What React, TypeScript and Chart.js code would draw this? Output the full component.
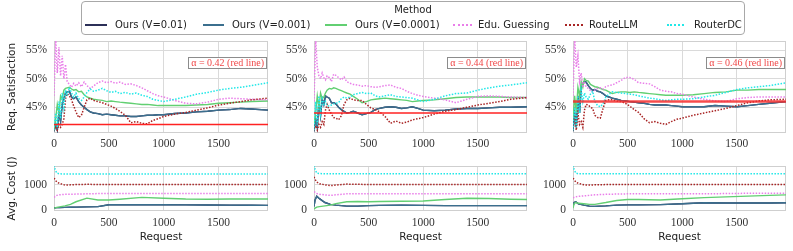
import React, { useEffect, useRef } from "react";
import { Chart, registerables } from "chart.js";

Chart.register(...registerables);

// ---------------- data ----------------
const X_MAX = 1950;
const X_TICKS = [0, 500, 1000, 1500];
const SAT_TICKS = [45, 50, 55];
const COST_TICKS = [0, 1000];
const ALPHAS = [0.42, 0.44, 0.46];

const METHODS = ["Ours (V=0.01)", "Ours (V=0.001)", "Ours (V=0.0001)", "Edu. Guessing", "RouteLLM", "RouterDC"];
const COLORS = ["#2c3058", "#3b6f8e", "#62cf72", "#e97ee9", "#a82424", "#22e8e8"];
const DOTTED = [false, false, false, true, true, true];

// request index at which satisfaction values were read
const REQ_SAT = [0, 15, 30, 45, 60, 75, 90, 105, 120, 140, 160, 180, 200, 225, 250, 275, 300, 330, 360, 400, 440, 480, 520, 560, 600, 650, 700, 750, 800, 850, 900, 950, 1000, 1100, 1200, 1300, 1400, 1500, 1600, 1700, 1800, 1950];

// panel 1 (alpha = 0.42) - Req. Satisfaction (%)
const SAT1_V001 = [40.8, 42, 41, 44, 42.5, 45.5, 46.5, 47.5, 47.7, 47.8, 46.8, 46.5, 46.8, 46.0, 45.4, 45.0, 44.6, 44.2, 44.0, 43.9, 43.7, 43.8, 43.7, 43.6, 43.5, 43.5, 43.4, 43.4, 43.5, 43.6, 43.6, 43.7, 43.7, 43.9, 44.0, 44.2, 44.3, 44.5, 44.6, 44.8, 44.7, 44.5];
const SAT1_V01 = [40.8, 42, 41, 44, 42.5, 45.5, 46.5, 47.5, 47.7, 47.8, 46.8, 46.5, 46.8, 46.0, 45.4, 45.0, 44.6, 44.2, 44.0, 43.9, 43.7, 43.8, 43.7, 43.6, 43.5, 43.5, 43.4, 43.4, 43.5, 43.6, 43.6, 43.7, 43.7, 43.9, 44.0, 44.2, 44.3, 44.5, 44.6, 44.8, 44.7, 44.5];
const SAT1_V0001 = [41, 43, 45.5, 44, 47, 46.5, 48, 48.3, 48.4, 48.5, 48.2, 48.0, 48.1, 47.7, 47.8, 47.2, 46.8, 46.6, 46.4, 46.3, 46.2, 46.0, 46.1, 46.0, 45.9, 45.8, 45.7, 45.6, 45.5, 45.5, 45.4, 45.3, 45.3, 45.3, 45.3, 45.4, 45.5, 45.7, 45.8, 45.9, 46.0, 46.1];
const SAT1_EDU = [47, 57, 51, 55.5, 50.5, 54, 50, 52.5, 49.5, 49, 48.5, 49.2, 48.7, 49.3, 48.6, 49.4, 48.8, 48.3, 48.7, 49.3, 49.6, 49.3, 49.5, 49.2, 49.4, 49.0, 49.1, 48.8, 48.4, 47.9, 47.4, 47.0, 46.8, 46.2, 45.7, 45.6, 45.9, 46.4, 46.6, 46.5, 46.4, 46.3];
const SAT1_RLLM = [41, 41.5, 41, 42, 41.5, 42, 43, 46.5, 47.4, 47, 46.3, 45.2, 44.2, 43.2, 43.6, 45.0, 46.3, 46.6, 46.2, 46.0, 45.8, 45.5, 45.2, 44.8, 44.3, 43.6, 42.3, 42.5, 42.2, 42.1, 42.7, 43.0, 43.4, 43.8, 44.1, 44.5, 44.9, 45.4, 45.7, 46.0, 46.3, 46.6];
const SAT1_RDC = [41, 44, 41.5, 46, 43, 47.5, 45, 48, 47, 48.5, 47.5, 46.8, 47.5, 46.5, 46.2, 46.8, 47.6, 48.2, 47.8, 48.0, 48.3, 47.9, 47.6, 47.8, 47.4, 47.6, 47.3, 47.5, 47.1, 46.9, 46.4, 46.2, 46.0, 46.4, 46.8, 47.3, 47.6, 48.0, 48.3, 48.5, 48.8, 49.3];

// panel 2 (alpha = 0.44)
const SAT2_V001 = [40.8, 43, 41.5, 46, 43.5, 46.5, 45.5, 47.0, 46.8, 46.6, 45.8, 45.8, 45.6, 45.0, 44.6, 44.3, 44.0, 44.1, 44.3, 44.0, 43.7, 43.9, 44.1, 44.6, 44.8, 45.0, 45.1, 45.0, 44.8, 44.9, 45.1, 44.8, 44.5, 44.4, 44.5, 44.7, 44.8, 44.8, 44.9, 45.0, 45.0, 45.1];
const SAT2_V01 = [40.8, 43, 41.5, 46, 43.5, 46.5, 45.5, 47.0, 46.8, 46.6, 45.8, 45.8, 45.6, 45.0, 44.6, 44.3, 44.0, 44.1, 44.3, 44.0, 43.7, 43.9, 44.1, 44.6, 44.8, 45.0, 45.1, 45.0, 44.8, 44.9, 45.1, 44.8, 44.5, 44.4, 44.5, 44.7, 44.8, 44.8, 44.9, 45.0, 45.0, 45.1];
const SAT2_V0001 = [42, 44, 47, 45, 47.5, 46.5, 46.8, 47.5, 48.0, 48.3, 48.2, 48.4, 48.3, 48.1, 47.9, 47.7, 47.5, 47.3, 46.9, 46.4, 45.8, 46.0, 46.3, 46.4, 46.5, 46.6, 46.5, 46.4, 46.3, 46.2, 46.0, 46.1, 46.2, 46.3, 46.5, 46.7, 46.8, 46.8, 46.8, 46.8, 46.7, 46.7];
const SAT2_EDU = [46, 57, 52, 50.5, 50, 51, 50.2, 49.8, 50.5, 50.2, 49.5, 50.8, 50.6, 50.2, 49.8, 50.3, 49.5, 49.2, 49.0, 48.9, 48.7, 48.8, 48.6, 48.5, 48.6, 48.8, 48.9, 48.5, 48.3, 47.8, 47.4, 47.1, 46.9, 46.6, 46.3, 45.8, 46.4, 46.9, 47.0, 46.9, 46.8, 46.7];
const SAT2_RLLM = [41, 41.8, 41, 42, 41.5, 42.5, 42, 44.5, 45.5, 44.5, 43.8, 43.2, 43.1, 42.8, 43.5, 45.5, 46.3, 46.6, 46.3, 46.2, 46.2, 45.5, 44.9, 44.6, 44.2, 43.4, 42.2, 42.6, 42.2, 42.4, 42.8, 43.0, 43.2, 43.8, 44.3, 44.6, 45.0, 45.4, 45.7, 46.0, 46.4, 46.7];
const SAT2_RDC = [41, 46, 42, 47, 44, 46.5, 45.5, 46, 45.3, 45.2, 45.4, 45.6, 45.7, 45.8, 46.5, 46.8, 46.6, 46.8, 47.2, 47.4, 47.6, 47.4, 47.5, 47.0, 46.8, 47.0, 47.2, 46.9, 46.8, 46.7, 46.6, 46.3, 46.0, 46.4, 47.0, 47.4, 47.5, 48.0, 48.4, 48.7, 48.9, 49.3];

// panel 3 (alpha = 0.46)
const SAT3_V001 = [40.8, 44, 41.5, 47, 44, 48.5, 49.3, 49.5, 49.4, 48.8, 48.3, 48.0, 48.1, 47.8, 47.7, 47.4, 47.0, 46.8, 46.6, 46.4, 46.2, 46.1, 46.0, 45.9, 45.8, 45.7, 45.5, 45.4, 45.4, 45.4, 45.3, 45.2, 45.1, 45.1, 45.1, 45.3, 45.2, 45.1, 45.3, 45.5, 45.7, 46.0];
const SAT3_V01 = [40.8, 44, 41.5, 47, 44, 48.5, 49.3, 49.5, 49.4, 48.8, 48.3, 48.0, 48.1, 47.8, 47.7, 47.4, 47.0, 46.8, 46.6, 46.4, 46.2, 46.1, 46.0, 45.9, 45.8, 45.7, 45.5, 45.4, 45.4, 45.4, 45.3, 45.2, 45.1, 45.1, 45.1, 45.3, 45.2, 45.1, 45.3, 45.5, 45.7, 46.0];
const SAT3_V0001 = [43, 47, 44, 48.5, 47, 49.5, 48.5, 50, 49.7, 49.6, 49.0, 48.8, 48.6, 48.5, 48.3, 48.1, 48.0, 47.7, 47.4, 47.6, 47.7, 47.7, 47.6, 47.7, 47.6, 47.5, 47.4, 47.3, 47.2, 47.1, 47.1, 47.1, 47.1, 47.2, 47.4, 47.6, 47.7, 48.0, 48.0, 48.1, 48.1, 48.1];
const SAT3_EDU = [47, 57, 52, 54, 49.5, 51, 48.5, 49.5, 48.6, 48.3, 47.9, 47.7, 48.0, 48.3, 48.4, 48.2, 48.6, 48.8, 48.9, 49.3, 49.7, 50.2, 50.2, 49.9, 49.3, 49.2, 49.1, 48.6, 48.0, 47.8, 47.7, 47.4, 47.3, 46.8, 46.4, 46.1, 46.0, 46.5, 46.7, 46.8, 46.8, 46.8];
const SAT3_RLLM = [41, 43.5, 41, 44, 42, 42.5, 41.5, 44.5, 45.5, 45.4, 45.0, 44.8, 43.6, 43.2, 43.1, 44.8, 46.2, 46.3, 46.3, 46.1, 46.0, 45.7, 45.2, 44.6, 44.1, 43.0, 42.3, 42.5, 42.2, 42.0, 42.5, 42.9, 43.1, 43.6, 44.0, 44.4, 44.8, 45.3, 45.8, 46.1, 46.3, 46.4];
const SAT3_RDC = [41, 45, 41.5, 47, 44, 48, 46, 47.5, 46.8, 46.4, 47.3, 47.8, 46.0, 45.3, 45.1, 45.6, 46.8, 47.3, 47.7, 47.6, 47.5, 47.4, 47.3, 47.2, 47.0, 46.8, 46.6, 46.5, 46.3, 46.2, 46.3, 46.4, 46.4, 46.5, 46.8, 47.1, 47.6, 48.1, 48.4, 48.6, 48.8, 49.3];

// request index at which average cost values were read
const REQ_COST = [0, 10, 25, 50, 100, 150, 200, 300, 400, 500, 600, 800, 1000, 1200, 1400, 1600, 1800, 1950];

// panel 1 - Avg. Cost (J)
const COST1_V01 = [90, 95, 100, 100, 110, 115, 120, 130, 140, 215, 215, 215, 215, 210, 205, 200, 195, 190];
const COST1_V001 = [90, 95, 100, 100, 110, 115, 120, 130, 140, 215, 215, 215, 215, 210, 205, 200, 195, 190];
const COST1_V0001 = [80, 90, 110, 130, 170, 230, 330, 470, 400, 400, 430, 500, 470, 440, 430, 440, 440, 440];
const COST1_EDU = [500, 540, 580, 600, 620, 620, 630, 640, 650, 650, 650, 655, 650, 650, 650, 650, 650, 650];
const COST1_RLLM = [1250, 1200, 1100, 1050, 980, 990, 1000, 1010, 1005, 1005, 1005, 1005, 1005, 1005, 1005, 1005, 1005, 1005];
const COST1_RDC = [1750, 1600, 1450, 1420, 1410, 1410, 1410, 1410, 1410, 1410, 1410, 1410, 1410, 1410, 1410, 1410, 1410, 1410];

// panel 2
const COST2_V01 = [150, 400, 550, 450, 300, 230, 200, 160, 160, 180, 190, 200, 190, 180, 180, 180, 180, 180];
const COST2_V001 = [150, 400, 550, 450, 300, 230, 200, 160, 160, 180, 190, 200, 190, 180, 180, 180, 180, 180];
const COST2_V0001 = [50, 80, 120, 140, 170, 200, 260, 330, 340, 330, 340, 350, 360, 420, 470, 460, 430, 420];
const COST2_EDU = [720, 700, 650, 620, 600, 580, 600, 640, 640, 640, 640, 640, 640, 640, 640, 640, 640, 640];
const COST2_RLLM = [1300, 1200, 1100, 1030, 990, 960, 980, 1020, 1010, 1005, 1000, 1000, 1000, 1000, 1000, 1000, 1000, 1000];
const COST2_RDC = [1750, 1600, 1450, 1430, 1420, 1420, 1420, 1420, 1420, 1420, 1420, 1420, 1420, 1420, 1420, 1420, 1420, 1420];

// panel 3
const COST3_V01 = [150, 300, 330, 250, 200, 160, 150, 170, 200, 210, 210, 220, 250, 290, 280, 280, 280, 290];
const COST3_V001 = [150, 300, 330, 250, 200, 160, 150, 170, 200, 210, 210, 220, 250, 290, 280, 280, 280, 290];
const COST3_V0001 = [80, 250, 300, 270, 250, 230, 230, 300, 380, 420, 420, 400, 450, 490, 520, 550, 580, 600];
const COST3_EDU = [480, 500, 520, 540, 560, 580, 600, 620, 630, 640, 640, 640, 640, 640, 650, 660, 660, 660];
const COST3_RLLM = [1250, 1200, 1100, 1050, 990, 980, 990, 1000, 1000, 1000, 1000, 1000, 1000, 1000, 1000, 1000, 1000, 1000];
const COST3_RDC = [1750, 1600, 1450, 1420, 1420, 1420, 1420, 1420, 1420, 1420, 1420, 1420, 1420, 1420, 1420, 1420, 1420, 1420];

const SAT_SERIES = [
  [SAT1_V01, SAT1_V001, SAT1_V0001, SAT1_EDU, SAT1_RLLM, SAT1_RDC],
  [SAT2_V01, SAT2_V001, SAT2_V0001, SAT2_EDU, SAT2_RLLM, SAT2_RDC],
  [SAT3_V01, SAT3_V001, SAT3_V0001, SAT3_EDU, SAT3_RLLM, SAT3_RDC],
];
const COST_SERIES = [
  [COST1_V01, COST1_V001, COST1_V0001, COST1_EDU, COST1_RLLM, COST1_RDC],
  [COST2_V01, COST2_V001, COST2_V0001, COST2_EDU, COST2_RLLM, COST2_RDC],
  [COST3_V01, COST3_V001, COST3_V0001, COST3_EDU, COST3_RLLM, COST3_RDC],
];

// ---------------- layout ----------------
const PAGE_W = 793;
const PAGE_H = 251;
const PANEL_LEFT = [54, 314, 573];
const PANEL_RIGHT = [268, 527, 786];
const SAT_AREA = [41, 133];
const COST_AREA = [166, 211];
const SAT_RANGE = [40.5, 56.6];
const COST_RANGE = [-30, 1725];

const TICK_FONT = { family: "'Liberation Serif', serif", size: 11.5 };
const TITLE_FONT = { family: "'DejaVu Sans', sans-serif", size: 10.5 };
const GRID = "#dadada";

const framePlugin = {
  id: "frame",
  beforeDatasetsDraw(chart: any) {
    const { ctx, chartArea: a } = chart;
    ctx.save();
    ctx.strokeStyle = "#cfcfcf";
    ctx.lineWidth = 1;
    ctx.strokeRect(Math.round(a.left) + 0.5, Math.round(a.top) + 0.5, Math.round(a.right - a.left) - 1, Math.round(a.bottom - a.top) - 1);
    ctx.restore();
  },
};

const alphaBoxPlugin = {
  id: "alphaBox",
  afterDatasetsDraw(chart: any, _args: any, opts: any) {
    if (!opts || !opts.text) return;
    const { ctx, chartArea: a } = chart;
    ctx.save();
    ctx.font = "10px 'Liberation Serif', serif";
    const tw = ctx.measureText(opts.text).width;
    const padX = 3;
    const h = 12;
    const w = tw + 2 * padX;
    const right = Math.round(a.right) - 1;
    const top = Math.round(a.top) + 16;
    const left = right - w;
    ctx.fillStyle = "rgba(255,255,255,0.92)";
    ctx.fillRect(left, top, w, h);
    ctx.strokeStyle = "#8c8c8c";
    ctx.lineWidth = 1;
    ctx.strokeRect(Math.round(left) + 0.5, top + 0.5, Math.round(w) - 1, h - 1);
    ctx.fillStyle = "#f04848";
    ctx.textBaseline = "middle";
    ctx.fillText(opts.text, left + padX, top + h / 2 + 0.5);
    ctx.restore();
  },
};

function buildChart(canvas: HTMLCanvasElement, panel: number, kind: "sat" | "cost"): Chart {
  const isSat = kind === "sat";
  const left = PANEL_LEFT[panel];
  const right = PANEL_RIGHT[panel];
  const [top, bottom] = isSat ? SAT_AREA : COST_AREA;
  const yW = panel === 0 ? 54 : 40;
  const xH = isSat ? 20 : 40;
  const series = isSat ? SAT_SERIES[panel] : COST_SERIES[panel];
  const xs = isSat ? REQ_SAT : REQ_COST;

  const datasets: any[] = series.map((vals, i) => ({
    label: METHODS[i],
    data: vals.map((v, k) => ({ x: xs[k], y: v })),
    borderColor: COLORS[i],
    backgroundColor: COLORS[i],
    borderWidth: DOTTED[i] ? 1.5 : 1.4,
    borderDash: DOTTED[i] ? [1.5, 1.5] : [],
    pointRadius: 0,
    tension: 0,
    fill: false,
    order: 6 - i,
  }));

  if (isSat) {
    const a = ALPHAS[panel] * 100;
    datasets.push({
      label: "alpha",
      data: [{ x: 0, y: a }, { x: X_MAX, y: a }],
      borderColor: panel === 2 ? "rgba(245,45,45,0.85)" : "#ff2222",
      borderWidth: panel === 2 ? 2.5 : 1.6,
      pointRadius: 0,
      fill: false,
      order: 0,
    });
  }

  const yTicks = isSat ? SAT_TICKS : COST_TICKS;
  const yRange = isSat ? SAT_RANGE : COST_RANGE;

  return new Chart(canvas, {
    type: "line",
    data: { datasets },
    plugins: [framePlugin, alphaBoxPlugin],
    options: {
      responsive: false,
      animation: false,
      devicePixelRatio: 1,
      events: [],
      layout: {
        padding: { left: left - yW, right: PAGE_W - right, top, bottom: PAGE_H - bottom - xH },
      },
      plugins: {
        legend: { display: false },
        tooltip: { enabled: false },
        alphaBox: isSat ? { text: `α = ${ALPHAS[panel].toFixed(2)} (red line)` } : {},
      } as any,
      scales: {
        x: {
          type: "linear",
          min: 0,
          max: X_MAX,
          afterBuildTicks: (s: any) => {
            s.ticks = X_TICKS.map((v) => ({ value: v }));
          },
          afterFit: (s: any) => {
            s.height = xH;
          },
          grid: { color: GRID, lineWidth: 1, drawTicks: false },
          border: { display: false },
          ticks: { font: TICK_FONT, color: "#333", padding: isSat ? 4 : 5, maxRotation: 0, callback: (v: any) => String(v) },
          title: {
            display: !isSat,
            text: "Request",
            font: TITLE_FONT,
            color: "#222",
            padding: { top: 0, bottom: 7 },
          },
        },
        y: {
          type: "linear",
          min: yRange[0],
          max: yRange[1],
          afterBuildTicks: (s: any) => {
            s.ticks = yTicks.map((v) => ({ value: v }));
          },
          afterFit: (s: any) => {
            s.width = yW;
          },
          grid: { color: GRID, lineWidth: 1, drawTicks: false },
          border: { display: false },
          ticks: {
            font: TICK_FONT,
            color: "#333",
            padding: 7,
            callback: (v: any) => (isSat ? `${v}%` : String(v)),
          },
          title: {
            display: panel === 0,
            text: isSat ? "Req. Satisfaction" : "Avg. Cost (J)",
            font: TITLE_FONT,
            color: "#222",
            padding: { top: 6, bottom: 0 },
          },
        },
      },
    } as any,
  });
}

function ChartCanvas({ panel, kind }: { panel: number; kind: "sat" | "cost" }) {
  const ref = useRef<HTMLCanvasElement>(null);
  useEffect(() => {
    if (!ref.current) return;
    const chart = buildChart(ref.current, panel, kind);
    return () => chart.destroy();
  }, [panel, kind]);
  return (
    <canvas
      ref={ref}
      width={PAGE_W}
      height={PAGE_H}
      style={{ position: "absolute", left: 0, top: 0, width: PAGE_W, height: PAGE_H }}
    />
  );
}

// legend geometry (page px): sample line start/end, text start
const LEGEND_LINE_X0 = [85, 203, 325, 453, 565, 667];
const LEGEND_LINE_X1 = [107, 224, 347, 472, 583, 684];
const LEGEND_TEXT_X = [115, 232, 355, 478, 589, 694];

function Legend() {
  const font = "'DejaVu Sans', sans-serif";
  return (
    <div style={{ position: "absolute", left: 0, top: 0, width: PAGE_W, height: 40 }}>
      <div
        style={{
          position: "absolute",
          left: 81,
          top: 1,
          width: 664,
          height: 34,
          boxSizing: "border-box",
          border: "1.5px solid #a8a8a8",
          borderRadius: 4,
          background: "rgba(255,255,255,0.9)",
        }}
      />
      <div
        style={{
          position: "absolute",
          left: 81,
          width: 664,
          top: 4,
          height: 12,
          lineHeight: "12px",
          textAlign: "center",
          fontFamily: font,
          fontSize: 10,
          color: "#222",
        }}
      >
        Method
      </div>
      {METHODS.map((m, i) => (
        <React.Fragment key={m}>
          <div
            style={{
              position: "absolute",
              left: LEGEND_LINE_X0[i],
              width: LEGEND_LINE_X1[i] - LEGEND_LINE_X0[i],
              top: 24,
              height: 0,
              borderTop: `2px ${DOTTED[i] ? "dotted" : "solid"} ${COLORS[i]}`,
            }}
          />
          <div
            style={{
              position: "absolute",
              left: LEGEND_TEXT_X[i],
              top: 19,
              height: 12,
              lineHeight: "12px",
              whiteSpace: "nowrap",
              fontFamily: font,
              fontSize: 10,
              color: "#222",
            }}
          >
            {m}
          </div>
        </React.Fragment>
      ))}
    </div>
  );
}

export default function App() {
  return (
    <div
      style={{
        position: "absolute",
        left: 0,
        top: 0,
        width: PAGE_W,
        height: PAGE_H,
        background: "#fff",
        overflow: "hidden",
      }}
    >
      {[0, 1, 2].map((p) => (
        <React.Fragment key={p}>
          <ChartCanvas panel={p} kind="sat" />
          <ChartCanvas panel={p} kind="cost" />
        </React.Fragment>
      ))}
      <Legend />
    </div>
  );
}
